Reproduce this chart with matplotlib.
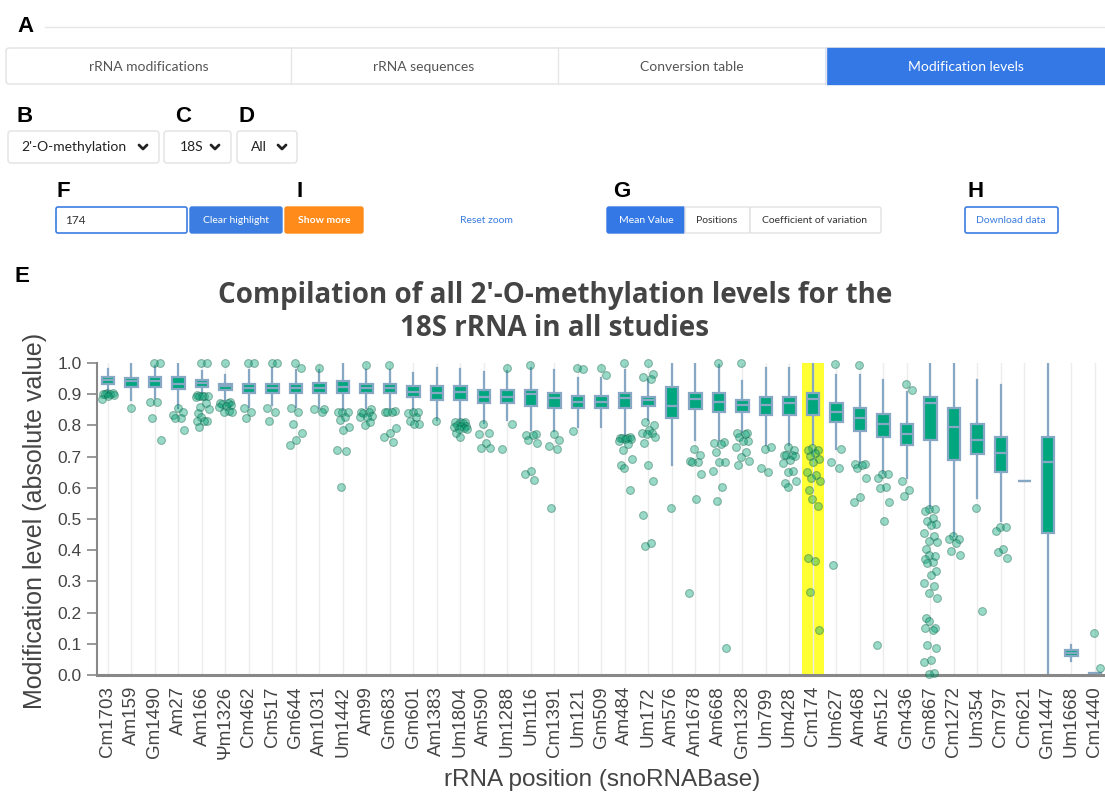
import matplotlib.pyplot as plt
from matplotlib.patches import FancyBboxPatch
import numpy as np

# positions (snoRNABase) and box statistics
names = ["Cm1703", "Am159", "Gm1490", "Am27", "Am166", "Ψm1326", "Cm462", "Cm517",
         "Gm644", "Am1031", "Um1442", "Am99", "Gm683", "Gm601", "Am1383", "Um1804",
         "Am590", "Um1288", "Um116", "Cm1391", "Um121", "Gm509", "Am484", "Um172",
         "Am576", "Am1678", "Am668", "Gm1328", "Um799", "Um428", "Cm174", "Um627",
         "Am468", "Am512", "Gm436", "Gm867", "Cm1272", "Um354", "Cm797", "Cm621",
         "Gm1447", "Um1668", "Cm1440"]
whislo = [0.906, 0.882, 0.887, 0.855, 0.900, 0.882, 0.860, 0.866, 0.860, 0.855, 0.850,
          0.855, 0.855, 0.850, 0.818, 0.818, 0.807, 0.818, 0.786, 0.782, 0.796, 0.796,
          0.770, 0.818, 0.674, 0.754, 0.754, 0.780, 0.737, 0.737, 0.740, 0.724, 0.679,
          0.647, 0.631, 0.535, 0.444, 0.567, 0.492, 0.623, 0.000, 0.044, 0.000]
q1 = [0.932, 0.922, 0.922, 0.916, 0.922, 0.913, 0.905, 0.905, 0.905, 0.903, 0.903,
      0.903, 0.903, 0.892, 0.882, 0.882, 0.873, 0.873, 0.863, 0.855, 0.855, 0.855,
      0.855, 0.861, 0.823, 0.852, 0.844, 0.842, 0.833, 0.833, 0.833, 0.812, 0.782,
      0.764, 0.736, 0.754, 0.690, 0.709, 0.652, 0.623, 0.455, 0.060, 0.001]
med = [0.945, 0.941, 0.941, 0.934, 0.936, 0.925, 0.919, 0.919, 0.919, 0.919, 0.922,
       0.919, 0.919, 0.908, 0.905, 0.908, 0.892, 0.892, 0.900, 0.889, 0.876, 0.876,
       0.887, 0.880, 0.862, 0.885, 0.876, 0.864, 0.864, 0.872, 0.884, 0.844, 0.825,
       0.804, 0.773, 0.873, 0.796, 0.754, 0.713, 0.623, 0.684, 0.070, 0.003]
q3 = [0.954, 0.953, 0.954, 0.955, 0.946, 0.933, 0.932, 0.932, 0.932, 0.935, 0.943,
      0.932, 0.932, 0.925, 0.925, 0.925, 0.914, 0.913, 0.914, 0.904, 0.893, 0.893,
      0.903, 0.892, 0.923, 0.904, 0.903, 0.883, 0.892, 0.892, 0.903, 0.873, 0.855,
      0.836, 0.804, 0.892, 0.855, 0.804, 0.764, 0.623, 0.764, 0.079, 0.005]
whishi = [0.981, 0.997, 0.990, 1.000, 0.973, 0.962, 0.978, 0.983, 0.978, 0.978, 1.000,
          0.978, 0.978, 0.967, 0.983, 0.980, 0.972, 0.975, 0.983, 0.977, 0.951, 0.951,
          0.978, 0.946, 1.000, 0.997, 0.994, 0.942, 0.983, 0.983, 1.000, 0.962, 0.962,
          0.946, 0.906, 1.000, 1.000, 0.946, 0.928, 0.623, 1.000, 0.097, 0.005]
outliers = [
    [0.903, 0.903, 0.902, 0.901, 0.900, 0.899, 0.895, 0.886],
    [0.855],
    [1.0, 1.0, 0.874, 0.874, 0.825, 0.754],
    [0.855, 0.844, 0.833, 0.825, 0.823, 0.785],
    [1.0, 1.0, 0.896, 0.895, 0.895, 0.894, 0.893, 0.892, 0.873, 0.860, 0.852,
     0.839, 0.828, 0.814, 0.814, 0.813, 0.796],
    [1.0, 0.874, 0.873, 0.871, 0.870, 0.864, 0.862, 0.860, 0.845, 0.844, 0.843],
    [1.0, 1.0, 0.855, 0.844, 0.825],
    [1.0, 1.0, 0.855, 0.844, 0.814],
    [1.0, 0.983, 0.855, 0.844, 0.805, 0.775, 0.754, 0.736],
    [0.983, 0.853, 0.853, 0.844],
    [0.844, 0.843, 0.842, 0.828, 0.818, 0.796, 0.786, 0.722, 0.718, 0.604],
    [0.994, 0.853, 0.843, 0.842, 0.840, 0.829, 0.827, 0.826, 0.812, 0.800],
    [0.994, 0.845, 0.844, 0.843, 0.842, 0.793, 0.775, 0.764, 0.746],
    [0.843, 0.842, 0.841, 0.828, 0.814, 0.805, 0.803],
    [0.814],
    [0.812, 0.811, 0.810, 0.808, 0.800, 0.799, 0.798, 0.796, 0.791, 0.790, 0.788,
     0.775, 0.764],
    [0.804, 0.775, 0.774, 0.743, 0.727, 0.726],
    [0.983, 0.804, 0.724],
    [0.994, 0.773, 0.770, 0.768, 0.754, 0.743, 0.654, 0.644, 0.625],
    [0.774, 0.753, 0.733, 0.725, 0.535],
    [0.983, 0.982, 0.783],
    [0.983, 0.963],
    [1.0, 0.762, 0.761, 0.760, 0.759, 0.758, 0.757, 0.750, 0.740, 0.722, 0.693,
     0.674, 0.665, 0.593],
    [1.0, 0.964, 0.955, 0.948, 0.812, 0.800, 0.786, 0.776, 0.775, 0.774, 0.764,
     0.743, 0.674, 0.623, 0.513, 0.423, 0.412],
    [0.535],
    [0.723, 0.705, 0.686, 0.684, 0.682, 0.644, 0.564, 0.264],
    [1.0, 0.746, 0.745, 0.740, 0.714, 0.684, 0.683, 0.654, 0.604, 0.557, 0.085],
    [1.0, 0.776, 0.775, 0.774, 0.764, 0.751, 0.750, 0.732, 0.715, 0.700, 0.685, 0.674],
    [0.725, 0.730, 0.663, 0.652],
    [0.730, 0.722, 0.706, 0.705, 0.704, 0.703, 0.690, 0.679, 0.655, 0.652, 0.623,
     0.615, 0.604],
    [0.727, 0.722, 0.720, 0.711, 0.703, 0.693, 0.684, 0.652, 0.642, 0.631, 0.622,
     0.593, 0.565, 0.543, 0.375, 0.364, 0.265, 0.145],
    [0.996, 0.724, 0.684, 0.664, 0.354],
    [0.994, 0.676, 0.675, 0.674, 0.663, 0.633, 0.572, 0.556],
    [0.644, 0.643, 0.633, 0.601, 0.600, 0.554, 0.494, 0.095],
    [0.932, 0.914, 0.623, 0.593, 0.574],
    [0.533, 0.531, 0.527, 0.503, 0.492, 0.484, 0.482, 0.455, 0.444, 0.428, 0.425,
     0.405, 0.385, 0.380, 0.372, 0.363, 0.358, 0.332, 0.321, 0.294, 0.284, 0.262,
     0.246, 0.182, 0.172, 0.152, 0.150, 0.145, 0.097, 0.086, 0.048, 0.043, 0.006, 0.002],
    [0.444, 0.437, 0.436, 0.423, 0.396, 0.385],
    [0.535, 0.204],
    [0.474, 0.473, 0.463, 0.405, 0.394, 0.375],
    [],
    [],
    [],
    [0.134, 0.024],
]
highlight = "Cm174"

# fixed horizontal spread for the points
jitter = [-0.04, 0.20, -0.22, 0.10, -0.13, 0.25, 0.02, -0.27, 0.15, -0.08, 0.28, -0.18]

W, H = 1105, 797
fig = plt.figure(figsize=(W / 100, H / 100), dpi=100)

# ---- page / UI layer in pixel coordinates ----
ui = fig.add_axes([0, 0, 1, 1])
ui.set_xlim(0, W)
ui.set_ylim(H, 0)
ui.axis("off")


def rbox(x0, y0, x1, y1, fc="white", ec="#e2e2e2", lw=1.0, r=3):
    ui.add_patch(FancyBboxPatch((x0, y0), x1 - x0, y1 - y0,
                                boxstyle=f"round,pad=0,rounding_size={r}",
                                fc=fc, ec=ec, lw=lw))


def label(x, y, s, **kw):
    kw.setdefault("fontsize", 10)
    kw.setdefault("color", "#555555")
    kw.setdefault("family", "Lato")
    ui.text(x, y, s, ha=kw.pop("ha", "center"), va=kw.pop("va", "center"), **kw)


def panel(x, y, s):
    ui.text(x, y, s, ha="center", va="center", fontsize=16, weight="bold",
            family="Liberation Sans", color="black")


def chevron(x, y):
    ui.plot([x - 4, x, x + 4], [y - 2, y + 2, y - 2], color="#222222", lw=2,
            solid_capstyle="round", solid_joinstyle="round")


panel(25, 26, "A")
ui.plot([45, W], [27, 27], color="#e6e6e6", lw=1)

# tabs
rbox(6, 48, W, 84)
for xs in [291, 558, 826]:
    ui.plot([xs, xs], [48, 84], color="#e6e6e6", lw=1)
ui.add_patch(FancyBboxPatch((826, 48), W - 826, 36, boxstyle="square,pad=0",
                            fc="#3478e6", ec="#3478e6"))
label(149, 67, "rRNA modifications")
label(424, 67, "rRNA sequences")
label(692, 67, "Conversion table")
label(966, 67, "Modification levels", color="white")

# selectors
panel(25, 116, "B")
panel(183, 116, "C")
panel(247, 116, "D")
rbox(8, 131, 159, 163)
rbox(164, 131, 231, 163)
rbox(237, 131, 297, 163)
label(21, 147, "2'-O-methylation", ha="left", color="#222222")
chevron(143, 147)
label(180, 147, "18S", ha="left", color="#222222")
chevron(215, 147)
label(251, 147, "All", ha="left", color="#222222")
chevron(282, 147)

# controls row
panel(63, 191, "F")
panel(300, 191, "I")
panel(622, 191, "G")
panel(976, 191, "H")
rbox(56, 207, 187, 233, ec="#3b7de0", lw=1.2, r=2)
label(65, 220, "174", ha="left", fontsize=8.5, color="#333333")
rbox(190, 207, 282, 233, fc="#3b7de0", ec="#3b7de0", r=2)
label(236, 220, "Clear highlight", fontsize=7.5, color="white")
rbox(285, 207, 363, 233, fc="#ff8c1a", ec="#ff8c1a", r=2)
label(324, 220, "Show more", fontsize=7.5, color="white", weight="bold")
label(486, 220, "Reset zoom", fontsize=7.5, color="#3b7de0")
rbox(607, 207, 685, 233, fc="#3478e6", ec="#3478e6", r=2)
label(646, 220, "Mean Value", fontsize=7.5, color="white")
rbox(685, 207, 750, 233, r=0)
label(717, 220, "Positions", fontsize=7.5, color="#333333")
rbox(750, 207, 881, 233, r=2)
label(815, 220, "Coefficient of variation", fontsize=7.5, color="#333333")
rbox(965, 207, 1058, 233, ec="#3b7de0", lw=1.2, r=2)
label(1011, 220, "Download data", fontsize=7.5, color="#3b7de0")

panel(22, 277, "E")

# ---- chart ----
label(555, 312, "Compilation of all 2'-O-methylation levels for the\n18S rRNA in all studies",
      fontsize=20, weight="bold", color="#444444", linespacing=1.2, family="Open Sans")
label(35, 521, "Modification level (absolute value)", rotation=90, fontsize=18,
      color="#444444", family="Liberation Sans")
label(602, 780, "rRNA position (snoRNABase)", fontsize=17.5, color="#444444",
      family="Liberation Sans")

ax = fig.add_axes([97 / W, 1 - 675 / H, 1008 / W, 312 / H])
ax.set_xlim(-0.468, 42.43)
ax.set_ylim(0, 1)
ax.set_facecolor("none")

xpos = np.arange(len(names))
hi = names.index(highlight)
ax.axvspan(hi - 0.48, hi + 0.48, color="#ffff33", lw=0, zorder=0)

stats = [dict(med=m, q1=a, q3=b, whislo=lo, whishi=up, fliers=[])
         for m, a, b, lo, up in zip(med, q1, q3, whislo, whishi)]
edge = "#86a8c4"
ax.bxp(stats, positions=xpos, widths=0.54, showfliers=False, showcaps=False,
       patch_artist=True, manage_ticks=False,
       boxprops=dict(facecolor="#00a67d", edgecolor=edge, linewidth=1.6),
       medianprops=dict(color=edge, linewidth=1.6),
       whiskerprops=dict(color=edge, linewidth=1.6))

for i, vals in enumerate(outliers):
    xs = [i + jitter[j % len(jitter)] for j in range(len(vals))]
    ax.scatter(xs, vals, s=32, facecolor=(0.0, 0.63, 0.45, 0.4),
               edgecolor=(0.08, 0.38, 0.28, 0.4), linewidth=0.8, zorder=4,
               clip_on=False)

ax.set_xticks(xpos)
ax.set_xticklabels(names, rotation=90, fontsize=13.5, color="#444444",
                   family="Liberation Sans")
ax.set_yticks(np.arange(0, 1.01, 0.1))
ax.set_yticklabels([f"{v:.1f}" for v in np.arange(0, 1.01, 0.1)],
                   fontsize=12.5, color="#444444", family="Liberation Sans")
ax.tick_params(axis="x", length=0, pad=8)
ax.tick_params(axis="y", length=7, width=1.2, color="#888888", pad=4)
ax.grid(axis="x", color="#ececec", lw=1)
ax.set_axisbelow(True)
for s in ["top", "right"]:
    ax.spines[s].set_visible(False)
ax.spines["left"].set_color("#888888")
ax.spines["left"].set_linewidth(1.5)
ax.spines["bottom"].set_color("#888888")
ax.spines["bottom"].set_linewidth(2.2)

fig.savefig("out.png", dpi=100)
